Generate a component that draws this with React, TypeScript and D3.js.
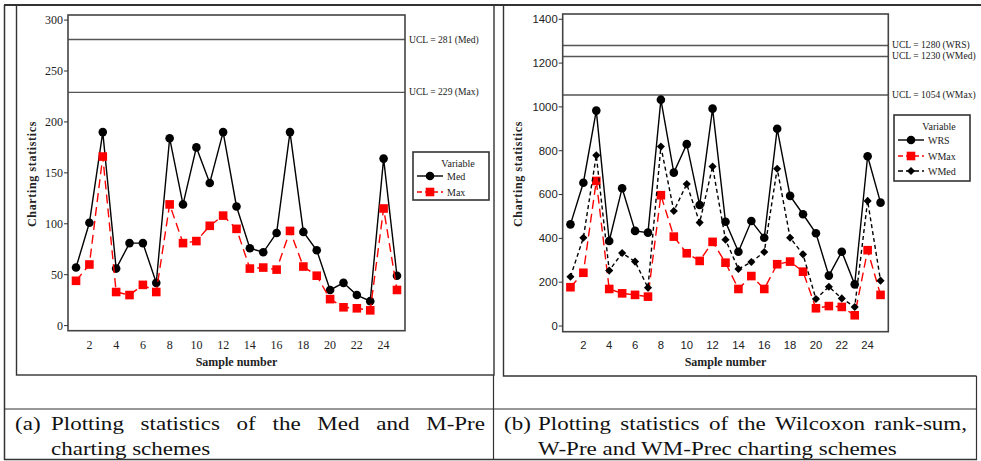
import React, { useEffect, useRef } from 'react';
import * as d3 from 'd3';

// sample numbers (x axis)
const sampleNumbers = [1, 2, 3, 4, 5, 6, 7, 8, 9, 10, 11, 12, 13, 14, 15, 16, 17, 18, 19, 20, 21, 22, 23, 24, 25];
const xTickValues = [2, 4, 6, 8, 10, 12, 14, 16, 18, 20, 22, 24];

// panel (a)
const medValues = [57, 101, 190, 56, 81, 81, 42, 184, 119, 175, 140, 190, 117, 76, 72, 91, 190, 92, 74, 35, 42, 30, 24, 164, 49];
const maxValues = [44, 60, 166, 33, 30, 40, 33, 119, 81, 83, 98, 108, 95, 56, 57, 55, 93, 58, 49, 26, 18, 17, 15, 115, 35];
const leftYTicks = [0, 50, 100, 150, 200, 250, 300];
const leftUcl = [281, 229];
const leftUclLabels = ['UCL = 281 (Med)', 'UCL = 229 (Max)'];

// panel (b)
const wrsValues = [464, 654, 983, 388, 629, 434, 426, 1033, 700, 830, 552, 992, 476, 339, 479, 403, 900, 594, 510, 423, 230, 339, 190, 775, 563];
const wmaxValues = [177, 243, 662, 169, 149, 142, 134, 597, 408, 332, 297, 384, 289, 169, 228, 169, 282, 294, 248, 81, 91, 87, 49, 346, 142];
const wmedValues = [225, 403, 779, 253, 333, 294, 175, 819, 525, 648, 472, 728, 394, 260, 292, 338, 718, 403, 327, 123, 179, 126, 87, 571, 207];
const rightYTicks = [0, 200, 400, 600, 800, 1000, 1200, 1400];
const rightUcl = [1280, 1230, 1054];
const rightUclLabels = ['UCL = 1280 (WRS)', 'UCL = 1230 (WMed)', 'UCL = 1054 (WMax)'];

const SERIF = '"Liberation Serif", "Times New Roman", serif';
const SANS = '"Liberation Sans", Arial, sans-serif';

type Series = { name: string; values: number[]; color: string; dash: string | null; marker: 'circle' | 'square' | 'diamond' };

type Panel = {
  left: number; right: number; top: number; bottom: number;
  yDomain: [number, number];
  yTicks: number[];
  tickFont: string;
  ucl: number[]; uclLabels: string[]; uclLabelY: number[]; uclLabelX: number;
  series: Series[];
  yLabelX: number;
  legend: { x: number; y: number; w: number; h: number; rows: number[] };
};

const drawMarker = (g: any, kind: string, x: number, y: number, color: string) => {
  if (kind === 'circle') {
    g.append('circle').attr('cx', x).attr('cy', y).attr('r', 4.3).attr('fill', color);
  } else if (kind === 'square') {
    g.append('rect').attr('x', x - 4.3).attr('y', y - 4.3).attr('width', 8.6).attr('height', 8.6).attr('fill', color);
  } else {
    g.append('path').attr('d', d3.symbol(d3.symbolDiamond2, 42)()).attr('transform', `translate(${x},${y})`).attr('fill', color);
  }
};

const drawPanel = (svg: any, p: Panel) => {
  const x = d3.scaleLinear().domain([0.4, 25.6]).range([p.left, p.right]);
  const y = d3.scaleLinear().domain(p.yDomain).range([p.bottom, p.top]);
  const g = svg.append('g');

  // UCL lines
  p.ucl.forEach((u, i) => {
    g.append('line').attr('x1', p.left).attr('x2', p.right).attr('y1', y(u)).attr('y2', y(u))
      .attr('stroke', '#555').attr('stroke-width', 1.4);
    g.append('text').attr('x', p.uclLabelX).attr('y', p.uclLabelY[i]).attr('dy', '0.35em')
      .attr('font-family', SERIF).attr('font-size', 9.6).attr('fill', '#222').text(p.uclLabels[i]);
  });

  // series
  p.series.forEach((s) => {
    const line = d3.line<number>().x((_, i) => x(sampleNumbers[i])).y((d) => y(d));
    const path = g.append('path').attr('d', line(s.values)).attr('fill', 'none')
      .attr('stroke', s.color).attr('stroke-width', 1.4);
    if (s.dash) path.attr('stroke-dasharray', s.dash);
    s.values.forEach((v, i) => drawMarker(g, s.marker, x(sampleNumbers[i]), y(v), s.color));
  });

  // frame
  g.append('rect').attr('x', p.left).attr('y', p.top).attr('width', p.right - p.left).attr('height', p.bottom - p.top)
    .attr('fill', 'none').attr('stroke', '#444').attr('stroke-width', 1.6);

  const tickSize = p.tickFont === SERIF ? 12 : 11.3;
  // y axis
  p.yTicks.forEach((t) => {
    g.append('line').attr('x1', p.left - 4).attr('x2', p.left).attr('y1', y(t)).attr('y2', y(t)).attr('stroke', '#333');
    g.append('text').attr('x', p.left - 5).attr('y', y(t)).attr('dy', '0.35em').attr('text-anchor', 'end')
      .attr('font-family', p.tickFont).attr('font-size', tickSize).attr('fill', '#222').text(t);
  });
  // x axis
  xTickValues.forEach((t) => {
    g.append('text').attr('x', x(t)).attr('y', 345).attr('dy', '0.35em').attr('text-anchor', 'middle')
      .attr('font-family', p.tickFont).attr('font-size', tickSize).attr('fill', '#222').text(t);
  });

  g.append('text').attr('x', (p.left + p.right) / 2).attr('y', 362).attr('dy', '0.35em').attr('text-anchor', 'middle')
    .attr('font-family', SERIF).attr('font-weight', 'bold').attr('font-size', 12).attr('fill', '#222').text('Sample number');
  g.append('text').attr('transform', `translate(${p.yLabelX},174) rotate(-90)`).attr('dy', '0.35em').attr('text-anchor', 'middle')
    .attr('font-family', SERIF).attr('font-weight', 'bold').attr('font-size', 12).attr('letter-spacing', 0.65)
    .attr('fill', '#222').text('Charting statistics');

  // legend
  const L = p.legend;
  g.append('rect').attr('x', L.x).attr('y', L.y).attr('width', L.w).attr('height', L.h)
    .attr('fill', 'white').attr('stroke', '#333').attr('stroke-width', 1.6);
  g.append('text').attr('x', L.x + L.w / 2 + 7).attr('y', L.y + 11).attr('dy', '0.35em').attr('text-anchor', 'middle')
    .attr('font-family', SERIF).attr('font-size', 10).attr('fill', '#222').text('Variable');
  p.series.forEach((s, i) => {
    const ry = L.rows[i];
    const ln = g.append('line').attr('x1', L.x + 4).attr('x2', L.x + 30).attr('y1', ry).attr('y2', ry)
      .attr('stroke', s.color).attr('stroke-width', 1.4);
    if (s.dash) ln.attr('stroke-dasharray', '5,3');
    drawMarker(g, s.marker, L.x + 17, ry, s.color);
    g.append('text').attr('x', L.x + 34).attr('y', ry).attr('dy', '0.35em')
      .attr('font-family', SERIF).attr('font-size', 10).attr('fill', '#222').text(s.name);
  });
};

// caption text is horizontally stretched in the reference
const STRETCH = 1.18;

const placeWord = (g: any, word: string, x: number, y: number) => {
  const t = g.append('text').attr('x', x).attr('y', y).text(word);
  const w = t.node().getComputedTextLength() * STRETCH;
  t.attr('textLength', w).attr('lengthAdjust', 'spacingAndGlyphs');
  return w;
};

const justifyLine = (g: any, text: string, x0: number, x1: number, y: number) => {
  const words = text.split(' ');
  const nodes = words.map((w) => g.append('text').attr('y', y).text(w));
  const widths = nodes.map((n: any) => n.node().getComputedTextLength() * STRETCH);
  const gap = (x1 - x0 - d3.sum(widths)) / (words.length - 1);
  let cx = x0;
  nodes.forEach((n: any, i: number) => {
    n.attr('x', cx).attr('textLength', widths[i]).attr('lengthAdjust', 'spacingAndGlyphs');
    cx += widths[i] + gap;
  });
};

const App = () => {
  const svgRef = useRef<SVGSVGElement>(null);

  useEffect(() => {
    const svg = d3.select(svgRef.current);
    svg.selectAll('*').remove();

    // table and picture frames
    const frame = svg.append('g').attr('fill', 'none').attr('stroke', '#333');
    frame.append('line').attr('x1', 4).attr('x2', 981).attr('y1', 5).attr('y2', 5).attr('stroke-width', 2);
    frame.append('line').attr('x1', 4.5).attr('x2', 4.5).attr('y1', 5).attr('y2', 460).attr('stroke-width', 1.5);
    frame.append('line').attr('x1', 4).attr('x2', 977).attr('y1', 459.5).attr('y2', 459.5).attr('stroke-width', 1.5);
    frame.append('line').attr('x1', 4).attr('x2', 977).attr('y1', 409).attr('y2', 409).attr('stroke-width', 1.2);
    frame.append('line').attr('x1', 493.5).attr('x2', 493.5).attr('y1', 375).attr('y2', 460).attr('stroke-width', 1.2);
    frame.append('line').attr('x1', 976.5).attr('x2', 976.5).attr('y1', 376).attr('y2', 460).attr('stroke-width', 1.2);
    frame.append('rect').attr('x', 16.5).attr('y', 5).attr('width', 477.5).attr('height', 370).attr('stroke-width', 1.4);
    frame.append('path').attr('d', 'M503.5,5 V376 H976.5').attr('stroke-width', 1.4);

    drawPanel(svg, {
      left: 68, right: 405, top: 15, bottom: 330.7,
      yDomain: [-5, 305], yTicks: leftYTicks, tickFont: SERIF,
      ucl: leftUcl, uclLabels: leftUclLabels, uclLabelY: [40, 92], uclLabelX: 409,
      series: [
        { name: 'Med', values: medValues, color: '#000', dash: null, marker: 'circle' },
        { name: 'Max', values: maxValues, color: '#ff0000', dash: '9,5', marker: 'square' },
      ],
      yLabelX: 31.5,
      legend: { x: 413, y: 152, w: 76, h: 48, rows: [176, 192] },
    });

    drawPanel(svg, {
      left: 562.7, right: 888.3, top: 14, bottom: 331.7,
      yDomain: [-26, 1424], yTicks: rightYTicks, tickFont: SANS,
      ucl: rightUcl, uclLabels: rightUclLabels, uclLabelY: [45, 56, 95], uclLabelX: 892,
      series: [
        { name: 'WRS', values: wrsValues, color: '#000', dash: null, marker: 'circle' },
        { name: 'WMax', values: wmaxValues, color: '#ff0000', dash: '9,5', marker: 'square' },
        { name: 'WMed', values: wmedValues, color: '#000', dash: '4,3', marker: 'diamond' },
      ],
      yLabelX: 518,
      legend: { x: 894, y: 115, w: 76, h: 66, rows: [140, 156, 171] },
    });

    // captions
    const cap = svg.append('g').attr('font-family', SERIF).attr('font-size', 19.5).attr('fill', '#111');
    placeWord(cap, '(a)', 15, 430);
    justifyLine(cap, 'Plotting statistics of the Med and M-Pre', 51, 485, 430);
    placeWord(cap, 'charting schemes', 51, 455);
    placeWord(cap, '(b)', 504, 430);
    justifyLine(cap, 'Plotting statistics of the Wilcoxon rank-sum,', 538, 967, 430);
    placeWord(cap, 'W-Pre and WM-Prec charting schemes', 538, 455);
  }, []);

  return (
    <svg ref={svgRef} width={981} height={461}
      style={{ position: 'absolute', left: 0, top: 0, background: 'white', display: 'block' }} />
  );
};

export default App;
